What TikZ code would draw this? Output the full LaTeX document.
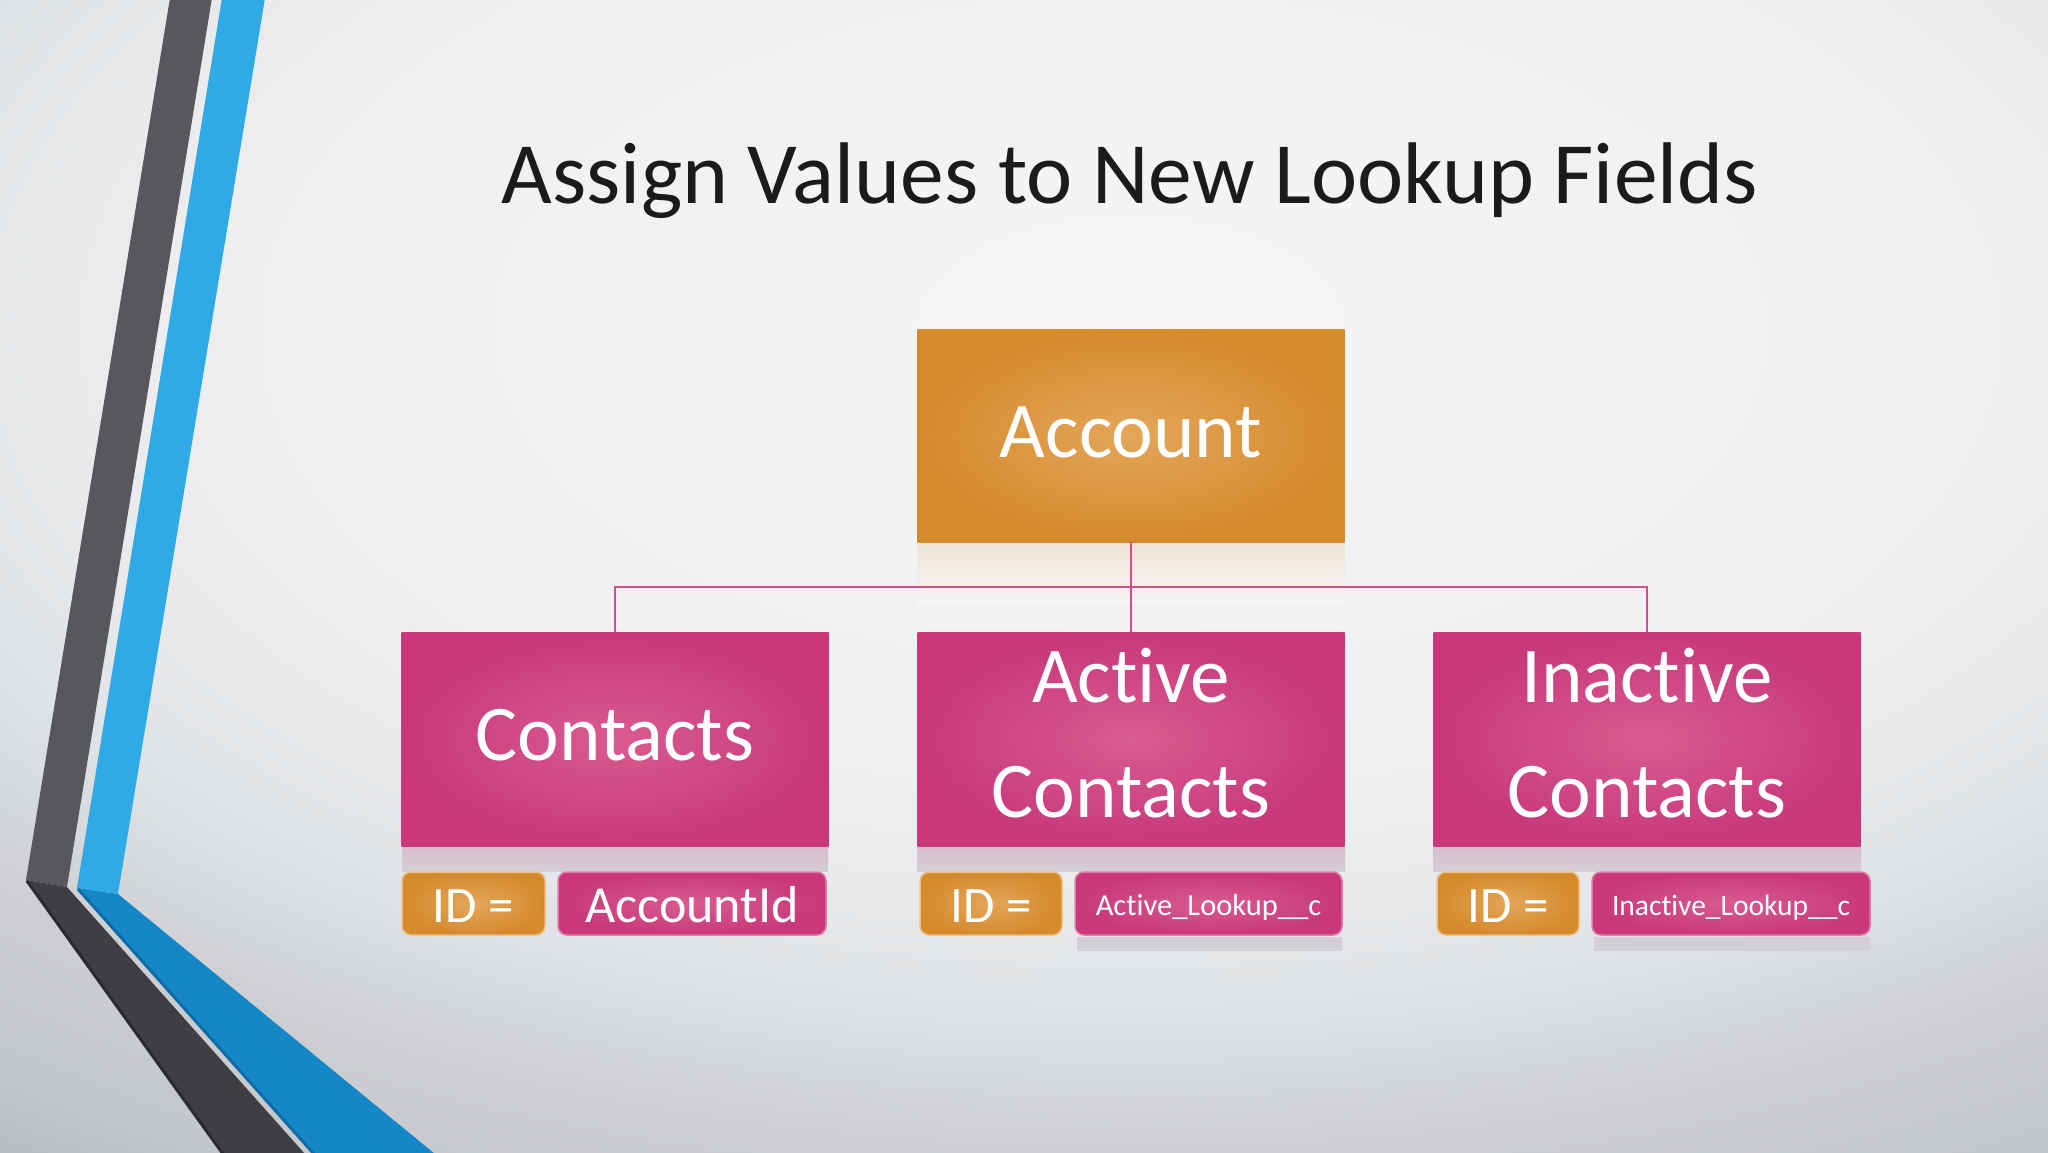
\documentclass[tikz,border=0pt]{standalone}
\usepackage{fontspec}
\setmainfont{Carlito}[Ligatures=NoCommon]
\definecolor{bgA}{HTML}{F5F6F8}
\definecolor{bgB}{HTML}{EEF0F2}
\definecolor{bgC}{HTML}{E7E9EB}
\definecolor{bgD}{HTML}{E0E3E5}
\definecolor{bgE}{HTML}{CCCED2}
\definecolor{bgF}{HTML}{C3C6CA}
\definecolor{bgG}{HTML}{B9BCBF}
\definecolor{orIn}{HTML}{E4A65A}
\definecolor{orOut}{HTML}{D58A2C}
\definecolor{pkIn}{HTML}{D95B91}
\definecolor{pkOut}{HTML}{C8387A}
\definecolor{darkV}{HTML}{57585B}
\definecolor{darkL}{HTML}{3E3F42}
\definecolor{darkE}{HTML}{2A2B2D}
\definecolor{blueV}{HTML}{2FAAE7}
\definecolor{blueL}{HTML}{1587C7}
\definecolor{blueE}{HTML}{0E6CA6}
\definecolor{connC}{HTML}{D44D86}
\definecolor{titleC}{HTML}{1B1B1B}
\definecolor{rfOrT}{HTML}{EFE4D4}
\definecolor{rfPkT}{HTML}{D7BDCC}
\definecolor{rfPkB}{HTML}{D4CFD6}
\definecolor{rfLkT}{HTML}{D6CCD3}
\definecolor{rfLkB}{HTML}{D0D2D6}
\pgfdeclareradialshading{bgshade}{\pgfpointorigin}{color(0bp)=(bgA); color(6.25bp)=(bgB); color(8.1bp)=(bgC); color(9.5bp)=(bgD); color(11.4bp)=(bgE); color(13.25bp)=(bgF); color(14.1bp)=(bgG); color(50bp)=(bgG)}
\pgfdeclareradialshading{orshade}{\pgfpointorigin}{color(0bp)=(orIn); color(25bp)=(orOut); color(50bp)=(orOut)}
\pgfdeclareradialshading{pkshade}{\pgfpointorigin}{color(0bp)=(pkIn); color(25bp)=(pkOut); color(50bp)=(pkOut)}
\tikzset{
  bigbox/.style={rectangle, inner sep=0pt, minimum width=427pt, minimum height=214pt},
  orbox/.style={bigbox, shading=orshade},
  pkbox/.style={bigbox, shading=pkshade},
  smallbox/.style={rectangle, rounded corners=9pt, inner sep=0pt, minimum height=63pt, line width=1.5pt},
  idbox/.style={smallbox, shading=orshade, draw=orIn!70!white},
  lkbox/.style={smallbox, shading=pkshade, draw=pkIn!80!white},
  bigtxt/.style={anchor=base, inner sep=0pt, text=white, font=\fontsize{79}{90}\selectfont},
  idtxt/.style={anchor=base, inner sep=0pt, text=white, font=\fontsize{51}{60}\selectfont},
  lktxt/.style={anchor=base, inner sep=0pt, text=white, font=\fontsize{30.5}{36}\selectfont},
  titletxt/.style={anchor=base, inner sep=0pt, text=titleC, font=\fontsize{87.5}{100}\selectfont},
  conn/.style={draw=connC, line width=2.2pt},
}
\begin{document}
\begin{tikzpicture}[x=1pt,y=-1pt]
\useasboundingbox (0,0) rectangle (2048,1152);
% background
\begin{scope}
\clip (0,0) rectangle (2048,1152);
\shade[shading=bgshade] (1130,330) ellipse (3400 and 1800);
% left decoration
\fill[darkV] (170,-2) -- (212,-2) -- (67,887) -- (26,880) -- cycle;
\fill[darkL] (26,880) -- (67,887) -- (305,1154) -- (222,1154) -- cycle;
\draw[darkE, line width=3pt] (27,881) -- (223,1154);
\fill[blueV] (222,-2) -- (265,-2) -- (118,894) -- (77,888) -- cycle;
\fill[blueL] (77,888) -- (118,894) -- (435,1154) -- (313,1154) -- cycle;
\draw[blueE, line width=3pt] (78,889) -- (314,1154);
% reflections
\shade[top color=rfOrT, bottom color=bgA] (917,543) rectangle (1345,604);
\shade[top color=rfPkT, bottom color=rfPkB] (402,847) rectangle (828,871);
\shade[top color=rfPkT, bottom color=rfPkB] (917,847) rectangle (1345,871);
\shade[top color=rfPkT, bottom color=rfPkB] (1433,847) rectangle (1861,871);
\shade[top color=rfLkT, bottom color=rfLkB] (1077,937) rectangle (1342,950);
\shade[top color=rfLkT, bottom color=rfLkB] (1594,937) rectangle (1870,950);
\end{scope}
% title
\node[titletxt] (title) at (1130,203) {Assign Values to New Lookup Fields};
% boxes
\node[orbox, minimum height=213pt] (acc) at (1131,435.5) {};
\node[pkbox] (contacts) at (615,739) {};
\node[pkbox] (active) at (1131,739) {};
\node[pkbox] (inactive) at (1647,739) {};
% connectors
\coordinate (bus) at (1131,587);
\draw[conn] (acc.south) -- (active.north);
\draw[conn] (contacts.north) |- (bus) -| (inactive.north);
% box texts
\node[bigtxt] (accT) at (1131,457) {Account};
\node[bigtxt] (contactsT) at (615,760) {Contacts};
\node[bigtxt] (activeT1) at (1131,702) {Active};
\node[bigtxt] (activeT2) at (1131,817) {Contacts};
\node[bigtxt] (inactiveT1) at (1647,702) {Inactive};
\node[bigtxt] (inactiveT2) at (1647,817) {Contacts};
% id boxes
\node[idbox, minimum width=143pt] (id1) at (473.5,903.5) {};
\node[idbox, minimum width=142pt] (id2) at (991,903.5) {};
\node[idbox, minimum width=142pt] (id3) at (1508,903.5) {};
\node[lkbox, minimum width=268pt] (lk1) at (692,903.5) {};
\node[lkbox, minimum width=267pt] (lk2) at (1208.5,903.5) {};
\node[lkbox, minimum width=278pt] (lk3) at (1731,903.5) {};
\node[idtxt] (id1T) at (473.5,922) {ID =};
\node[idtxt] (id2T) at (991,922) {ID =};
\node[idtxt] (id3T) at (1508,922) {ID =};
\node[idtxt, font=\fontsize{52}{60}\selectfont] (lk1T) at (692,922) {AccountId};
\node[lktxt] (lk2T) at (1208.5,915) {Active\_Lookup\_\_c};
\node[lktxt, font=\fontsize{29.5}{36}\selectfont] (lk3T) at (1731,915) {Inactive\_Lookup\_\_c};
\end{tikzpicture}
\end{document}
